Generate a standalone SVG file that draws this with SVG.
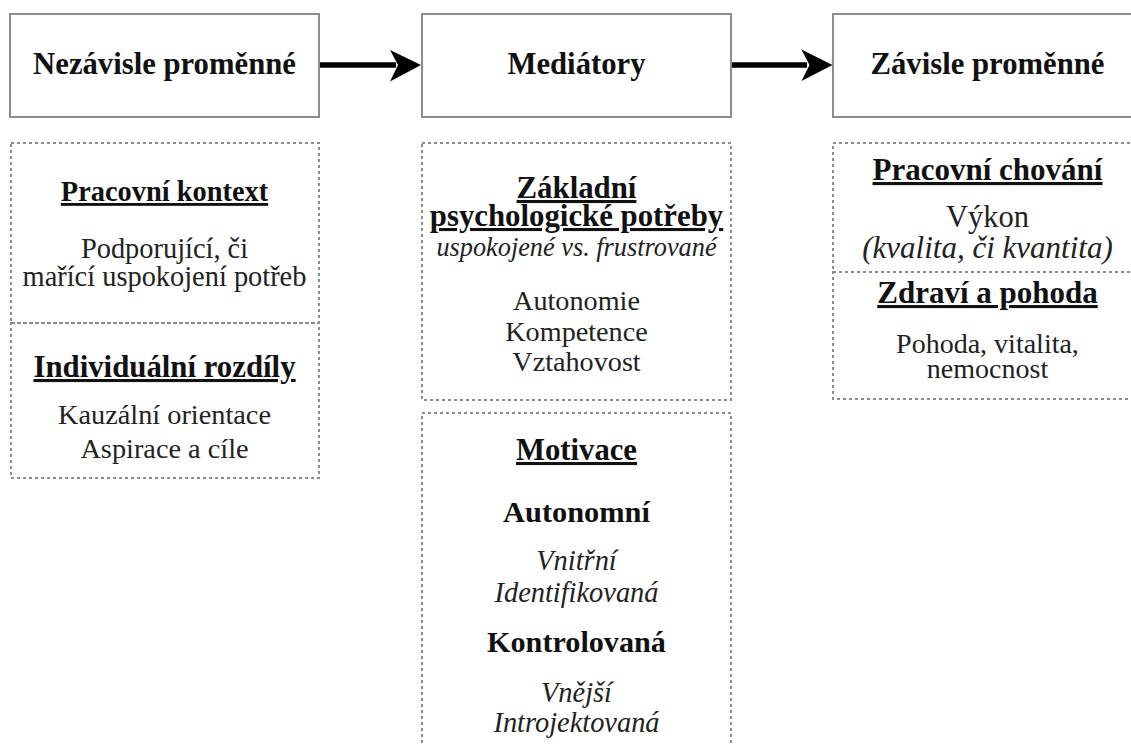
<svg xmlns="http://www.w3.org/2000/svg" width="1131" height="744" viewBox="0 0 1131 744">
  <style>
    text { font-family: "Liberation Serif", "Times New Roman", serif; fill: #111; text-anchor: middle; }
    .hdr { font-size: 30.7px; font-weight: bold; }
    .sub { font-weight: bold; text-decoration: underline; }
    .bld { font-weight: bold; }
    .txt { fill: #222; }
    .it { font-style: italic; fill: #222; }
    .box { fill: #fff; stroke: #8c8c8c; stroke-width: 2; }
    .dot { fill: none; stroke: #8c8c8c; stroke-width: 2; stroke-dasharray: 3 3; }
    .conn { stroke: #000; stroke-width: 5.5; fill: none; }
    .head { fill: #000; }
  </style>
  <rect width="1131" height="744" fill="#fff"/>

  <!-- header boxes -->
  <g id="node-nezavisle">
    <rect class="box" x="10" y="14" width="309" height="103"/>
    <text class="hdr" x="164.5" y="74">Nezávisle proměnné</text>
  </g>
  <g id="node-mediatory">
    <rect class="box" x="422" y="14" width="309" height="103"/>
    <text class="hdr" x="576.5" y="74">Mediátory</text>
  </g>
  <g id="node-zavisle">
    <rect class="box" x="833" y="14" width="309" height="103"/>
    <text class="hdr" x="987.5" y="74">Závisle proměnné</text>
  </g>

  <!-- connectors: thick shaft plus notched arrowhead -->
  <g id="connectors">
    <line class="conn" x1="320" y1="65" x2="396" y2="65"/>
    <path class="head" d="M390,50 L421,65 L390,81.5 L398,65 Z"/>
    <line class="conn" x1="732" y1="65" x2="807" y2="65"/>
    <path class="head" d="M801.5,49.5 L832.5,65 L801.5,81 L809.5,65 Z"/>
  </g>

  <!-- left column detail -->
  <g id="node-pracovni-kontext">
    <rect class="dot" x="11" y="143" width="308" height="180"/>
    <text class="sub" x="164.5" y="201" font-size="28.4">Pracovní kontext</text>
    <text class="txt" x="164.5" y="258" font-size="28.4">Podporující, či</text>
    <text class="txt" x="164.5" y="286" font-size="28.4">mařící uspokojení potřeb</text>
  </g>
  <g id="node-individualni-rozdily">
    <rect class="dot" x="11" y="323" width="308" height="155"/>
    <text class="sub" x="164.5" y="377" font-size="30.8">Individuální rozdíly</text>
    <text class="txt" x="164.5" y="424" font-size="28.3">Kauzální orientace</text>
    <text class="txt" x="164.5" y="458" font-size="28.3">Aspirace a cíle</text>
  </g>

  <!-- middle column detail -->
  <g id="node-potreby">
    <rect class="dot" x="422" y="143" width="309" height="257"/>
    <text class="sub" x="576.5" y="198" font-size="30.8">Základní</text>
    <text class="sub" x="576.5" y="226" font-size="30.8">psychologické potřeby</text>
    <text class="it" x="576.5" y="256" font-size="26.3">uspokojené vs. frustrované</text>
    <text class="txt" x="576.5" y="310" font-size="28.2">Autonomie</text>
    <text class="txt" x="576.5" y="340.5" font-size="28.2">Kompetence</text>
    <text class="txt" x="576.5" y="370.5" font-size="28.2">Vztahovost</text>
  </g>
  <g id="node-motivace">
    <rect class="dot" x="422" y="413" width="309" height="345"/>
    <text class="sub" x="576.5" y="460" font-size="30.7">Motivace</text>
    <text class="bld" x="576.5" y="521.5" font-size="30.4">Autonomní</text>
    <text class="it" x="576.5" y="570" font-size="28.4">Vnitřní</text>
    <text class="it" x="576.5" y="601.5" font-size="28.4">Identifikovaná</text>
    <text class="bld" x="576.5" y="651.5" font-size="30.2">Kontrolovaná</text>
    <text class="it" x="576.5" y="701.5" font-size="28.4">Vnější</text>
    <text class="it" x="576.5" y="731.5" font-size="28.4">Introjektovaná</text>
  </g>

  <!-- right column detail -->
  <g id="node-pracovni-chovani">
    <rect class="dot" x="833" y="143" width="309" height="129"/>
    <text class="sub" x="987.5" y="180" font-size="31">Pracovní chování</text>
    <text class="txt" x="987.5" y="226.5" font-size="30.5">Výkon</text>
    <text class="it" x="987.5" y="258" font-size="31">(kvalita, či kvantita)</text>
  </g>
  <g id="node-zdravi">
    <rect class="dot" x="833" y="272" width="309" height="127"/>
    <text class="sub" x="987.5" y="303" font-size="31">Zdraví a pohoda</text>
    <text class="txt" x="987.5" y="352.5" font-size="28">Pohoda, vitalita,</text>
    <text class="txt" x="987.5" y="378" font-size="28">nemocnost</text>
  </g>
</svg>
